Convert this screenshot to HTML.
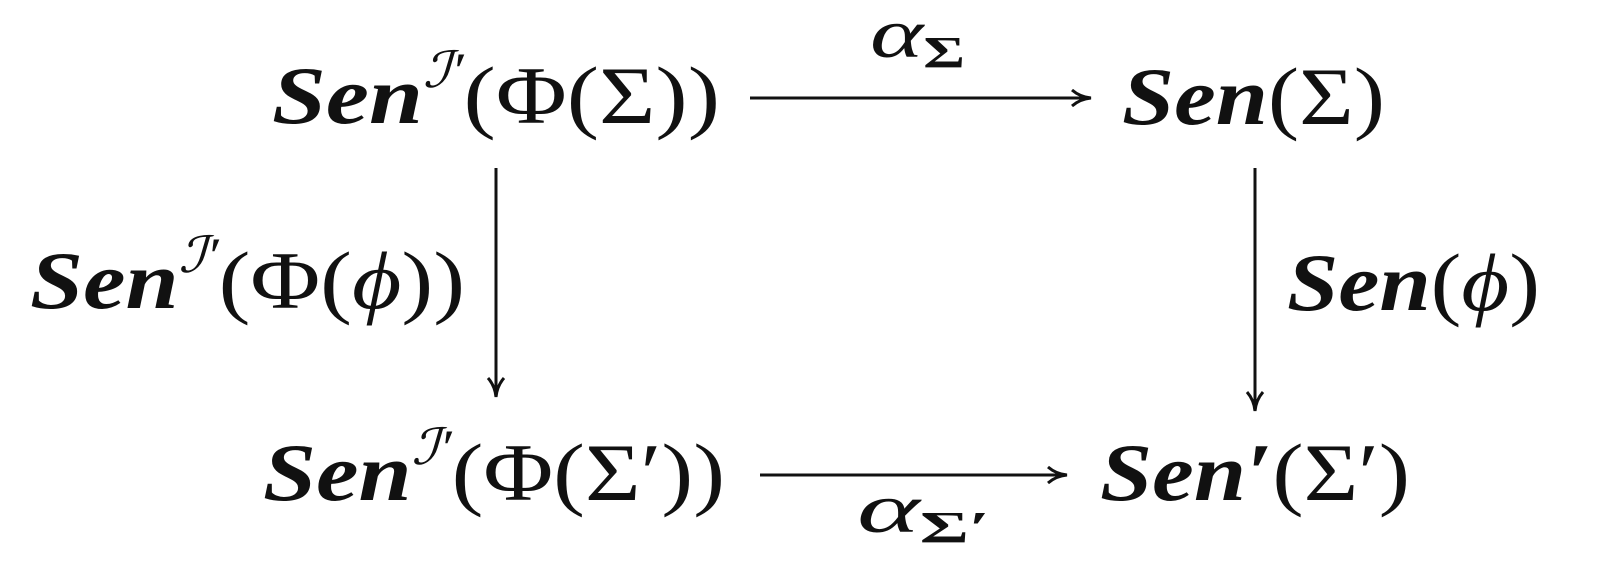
<!DOCTYPE html>
<html><head><meta charset="utf-8"><style>
html,body{margin:0;padding:0;background:#fff;width:1600px;height:586px;overflow:hidden}
.b{font-weight:bold;font-style:italic}
.i{font-style:italic}
</style></head><body>
<svg width="1600" height="586" viewBox="0 0 1600 586" xmlns="http://www.w3.org/2000/svg" font-family="'Liberation Serif', serif" fill="#111">
<defs>
<marker id="ah" markerWidth="24" markerHeight="20" refX="20" refY="10" orient="auto" markerUnits="userSpaceOnUse" viewBox="0 0 24 20">
<path d="M2,2 Q10,9 21,10 Q10,11 2,18" fill="none" stroke="#111" stroke-width="3"/>
</marker>
</defs>
<g stroke="#111" stroke-width="3" fill="none">
<line x1="750" y1="98" x2="1090" y2="98" marker-end="url(#ah)"/>
<line x1="760" y1="475" x2="1066" y2="475" marker-end="url(#ah)"/>
<line x1="496" y1="168" x2="496" y2="396" marker-end="url(#ah)"/>
<line x1="1255" y1="168" x2="1255" y2="410" marker-end="url(#ah)"/>
</g>
<text x="272" y="123" font-size="82" textLength="448" lengthAdjust="spacingAndGlyphs"><tspan class="b">Sen</tspan><tspan class="i" font-size="50" dy="-36">ℐ′</tspan><tspan dy="36">(Φ(Σ))</tspan></text>
<text x="1122" y="124" font-size="82" textLength="263" lengthAdjust="spacingAndGlyphs"><tspan class="b">Sen</tspan>(Σ)</text>
<text x="30" y="308" font-size="82" textLength="435" lengthAdjust="spacingAndGlyphs"><tspan class="b">Sen</tspan><tspan class="i" font-size="50" dy="-36">ℐ′</tspan><tspan dy="36">(Φ(</tspan><tspan class="i">ϕ</tspan>))</text>
<text x="1287" y="310" font-size="82" textLength="253" lengthAdjust="spacingAndGlyphs"><tspan class="b">Sen</tspan>(<tspan class="i">ϕ</tspan>)</text>
<text x="263" y="500" font-size="82" textLength="462" lengthAdjust="spacingAndGlyphs"><tspan class="b">Sen</tspan><tspan class="i" font-size="50" dy="-36">ℐ′</tspan><tspan dy="36">(Φ(Σ′))</tspan></text>
<text x="1100" y="500" font-size="82" textLength="310" lengthAdjust="spacingAndGlyphs"><tspan class="b">Sen′</tspan>(Σ′)</text>
<text x="870" y="57" font-size="70" textLength="95" lengthAdjust="spacingAndGlyphs"><tspan class="i">α</tspan><tspan font-size="44" font-weight="bold" dy="10">Σ</tspan></text>
<text x="857" y="532" font-size="70" textLength="133" lengthAdjust="spacingAndGlyphs"><tspan class="i">α</tspan><tspan font-size="44" font-weight="bold" dy="10">Σ′</tspan></text>
</svg>
</body></html>
